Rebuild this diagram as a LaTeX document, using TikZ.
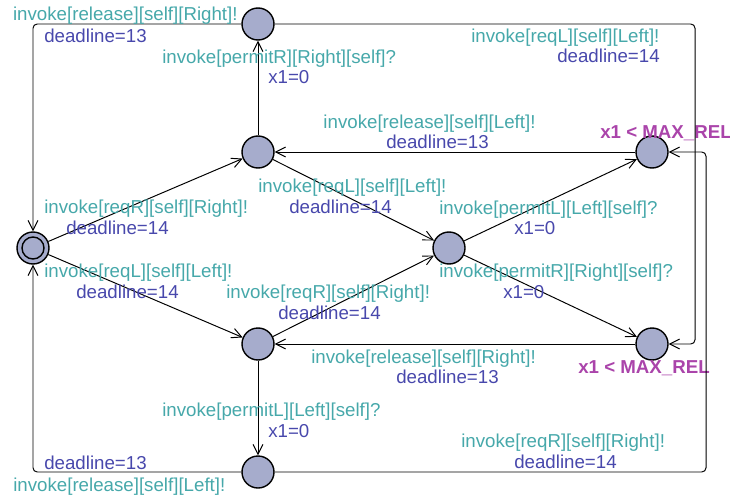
\documentclass[tikz,border=0pt]{standalone}
\usepackage{fontspec}
\setmainfont{Liberation Sans}
\usetikzlibrary{arrows.meta}
\definecolor{locfill}{RGB}{166,172,204}
\definecolor{synccol}{RGB}{70,168,170}
\definecolor{updcol}{RGB}{72,72,172}
\definecolor{invcol}{RGB}{170,68,170}
\tikzstyle{loc} = [draw=black, fill=locfill, circle, line width=1pt, minimum size=0.8cm, inner sep=0pt]
\tikzstyle{lbl} = [anchor=base west, inner sep=0pt, font={\fontsize{13.3}{16}\selectfont}]
\tikzstyle{sync} = [lbl, text=synccol]
\tikzstyle{upd} = [lbl, text=updcol]
\tikzstyle{inv} = [lbl, text=invcol, font={\fontsize{13.3}{16}\selectfont\bfseries}]
\tikzstyle{trans} = [->, line width=0.7pt, rounded corners=3pt]

\begin{document}
\begin{tikzpicture}[>={Straight Barb[length=7pt,width=7pt]}]
    \useasboundingbox (0,0) rectangle (18.25,-12.5);
    % locations
    \node[loc](init) at (0.825,-6.2){};
    \draw[line width=1pt] (init) circle (0.275);
    \node[loc](A) at (6.45,-0.6){};
    \node[loc](B) at (6.45,-3.8){};
    \node[loc](C) at (11.225,-6.2){};
    \node[loc](D) at (16.3,-3.8){};
    \node[loc](E) at (16.3,-8.6){};
    \node[loc](F) at (6.45,-8.6){};
    \node[loc](G) at (6.45,-11.8){};
    \coordinate (railA) at (17.375,0);
    \coordinate (railD) at (17.65,0);
    % invariants
    \node[inv](invD) at (15,-3.45){x1 < MAX\_REL};
    \node[inv](invE) at (14.45,-9.325){x1 < MAX\_REL};
    % transitions
    \draw[trans](A) -| (init);
    \draw[trans](G) -| (init);
    \draw[trans](init) -- (B);
    \draw[trans](init) -- (F);
    \draw[trans](B) -- (A);
    \draw[trans](B) -- (C);
    \draw[trans](F) -- (C);
    \draw[trans](F) -- (G);
    \draw[trans](C) -- (D);
    \draw[trans](C) -- (E);
    \draw[trans](D) -- (B);
    \draw[trans](E) -- (F);
    \draw[trans](A) -| (railA |- E) -- (E);
    \draw[trans](G) -| (railD |- D) -- (D);
    % labels
    \node[sync](sAinit) at (0.32,-0.52){invoke[release][self][Right]!};
    \node[upd](uAinit) at (1.1,-1.075){deadline=13};
    \node[sync](sBA) at (4.05,-1.6){invoke[permitR][Right][self]?};
    \node[upd](uBA) at (6.7,-2.075){x1=0};
    \node[sync](sAE) at (11.775,-1.075){invoke[reqL][self][Left]!};
    \node[upd](uAE) at (13.925,-1.575){deadline=14};
    \node[sync](sDB) at (8.08,-3.2){invoke[release][self][Left]!};
    \node[upd](uDB) at (9.65,-3.7){deadline=13};
    \node[sync](sinitB) at (1.1,-5.325){invoke[reqR][self][Right]!};
    \node[upd](uinitB) at (1.65,-5.85){deadline=14};
    \node[sync](sBC) at (6.45,-4.8){invoke[reqL][self][Left]!};
    \node[upd](uBC) at (7.225,-5.325){deadline=14};
    \node[sync](sCD) at (10.975,-5.35){invoke[permitL][Left][self]?};
    \node[upd](uCD) at (12.85,-5.85){x1=0};
    \node[sync](sinitF) at (1.1,-6.925){invoke[reqL][self][Left]!};
    \node[upd](uinitF) at (1.9,-7.45){deadline=14};
    \node[sync](sCE) at (10.975,-6.925){invoke[permitR][Right][self]?};
    \node[upd](uCE) at (12.575,-7.45){x1=0};
    \node[sync](sFC) at (5.65,-7.45){invoke[reqR][self][Right]!};
    \node[upd](uFC) at (6.95,-7.975){deadline=14};
    \node[sync](sEF) at (7.775,-9.075){invoke[release][self][Right]!};
    \node[upd](uEF) at (9.9,-9.575){deadline=13};
    \node[sync](sFG) at (4.05,-10.4){invoke[permitL][Left][self]?};
    \node[upd](uFG) at (6.7,-10.925){x1=0};
    \node[sync](sGD) at (11.525,-11.175){invoke[reqR][self][Right]!};
    \node[upd](uGD) at (12.85,-11.7){deadline=14};
    \node[upd](uGinit) at (1.1,-11.725){deadline=13};
    \node[sync](sGinit) at (0.325,-12.275){invoke[release][self][Left]!};
\end{tikzpicture}
\end{document}
